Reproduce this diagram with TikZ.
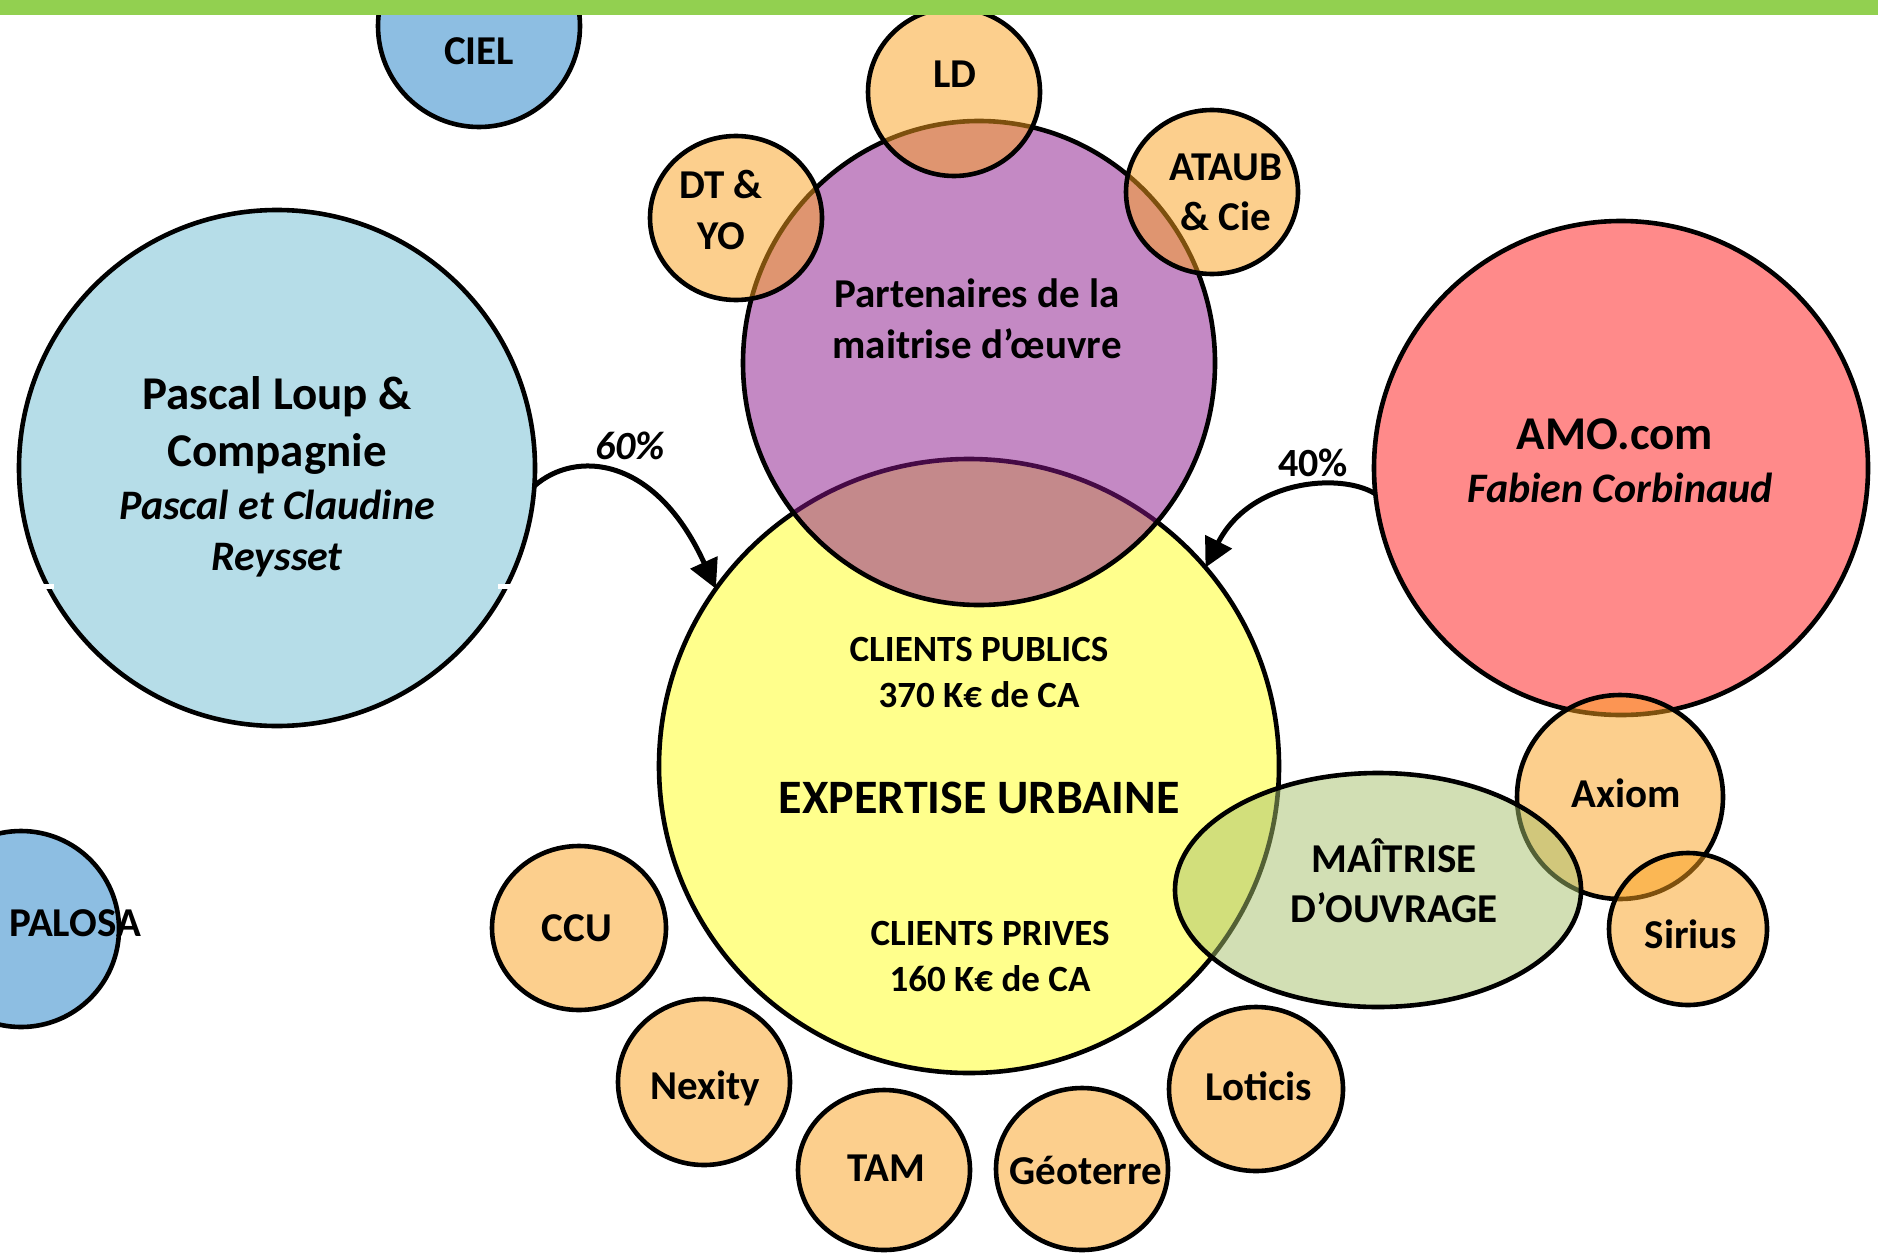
\documentclass[tikz,border=0pt]{standalone}
\usepackage{fontspec}
\setmainfont{Carlito}
\usetikzlibrary{shapes.geometric,arrows.meta}
\definecolor{topgreen}{RGB}{146,208,80}
\definecolor{cielblue}{RGB}{141,190,226}
\definecolor{pascalblue}{RGB}{182,221,232}
\definecolor{amored}{RGB}{255,138,138}
\definecolor{expyellow}{RGB}{255,255,140}
\definecolor{mopurple}{RGB}{139,21,139}
\definecolor{partorange}{RGB}{251,161,29}
\definecolor{mogreen}{RGB}{167,193,107}
\tikzset{
  bubble/.style={ellipse, draw=black, line width=4.6pt, inner sep=0pt, outer sep=0pt},
  partner/.style={bubble, fill=partorange, fill opacity=0.5},
  lbl/.style={font=\bfseries\fontsize{41}{51}\selectfont, inner sep=0pt, text height=26pt, text depth=0pt},
  mlbl/.style={font=\bfseries\fontsize{41}{51}\selectfont, inner sep=0pt, align=center},
  conn/.style={line width=5pt, -{Triangle[length=29pt,width=29pt]}},
  pct/.style={inner sep=0pt, text height=26pt, text depth=0pt}
}
\begin{document}
\begin{tikzpicture}[x=1pt,y=-1pt]
\useasboundingbox (0,0) rectangle (1878,1255);
\clip (0,0) rectangle (1878,1255);
\fill[white] (0,0) rectangle (1878,1255);
% background bubbles
\node[bubble, fill=cielblue, minimum width=202pt, minimum height=202pt] (ciel) at (479,26) {};
\node[bubble, fill=cielblue, minimum width=196pt, minimum height=196pt] (palosa) at (21,929) {};
\node[bubble, fill=pascalblue, minimum width=516pt, minimum height=516pt] (pascal) at (277,468) {};
\fill[white] (36,584) rectangle (54,589);
\fill[white] (498,584) rectangle (516,589);
\node[bubble, fill=amored, minimum width=494pt, minimum height=494pt] (amo) at (1621,468) {};
\node[partner, minimum width=206pt, minimum height=204pt] (axiom) at (1620,797) {};
\node[partner, minimum width=158pt, minimum height=152pt] (sirius) at (1688,929) {};
\node[bubble, fill=expyellow, minimum width=620pt, minimum height=614pt] (expertise) at (969,766) {};
\node[bubble, fill=mopurple, fill opacity=0.5, minimum width=472pt, minimum height=484pt] (moe) at (979,363) {};
\node[partner, minimum width=172pt, minimum height=168pt] (ld) at (954,92) {};
\node[partner, minimum width=172pt, minimum height=164pt] (dtyo) at (736,218) {};
\node[partner, minimum width=172pt, minimum height=164pt] (ataub) at (1212,192) {};
\node[bubble, fill=mogreen, fill opacity=0.5, minimum width=406pt, minimum height=234pt] (mo) at (1378,890) {};
\node[partner, minimum width=174pt, minimum height=164pt] (ccu) at (579,928) {};
\node[partner, minimum width=172pt, minimum height=166pt] (nexity) at (704,1082) {};
\node[partner, minimum width=172pt, minimum height=160pt] (tam) at (884,1170) {};
\node[partner, minimum width=172pt, minimum height=162pt] (geoterre) at (1082,1169) {};
\node[partner, minimum width=174pt, minimum height=164pt] (loticis) at (1256,1089) {};
% connectors
\draw[conn] (pascal.-4) .. controls (575,450) and (655,455) .. (expertise.145);
\draw[conn] (amo.186) .. controls (1340,472) and (1250,480) .. (expertise.40);
\node[pct, font=\bfseries\itshape\fontsize{40}{48}\selectfont] (p60) at (630,446) {60\%};
\node[pct, font=\bfseries\fontsize{40}{48}\selectfont] (p40) at (1313,463) {40\%};
% labels
\node[lbl] (tciel) at (479,51) {CIEL};
\node[lbl] (tpalosa) at (75,923) {PALOSA};
\node[mlbl, font=\bfseries\fontsize{47}{57}\selectfont] (tpascal) at (277,425) {Pascal Loup \&\\Compagnie};
\node[mlbl, font=\bfseries\itshape\fontsize{42}{51}\selectfont] (tpascal2) at (277,534) {Pascal et Claudine\\Reysset};
\node[lbl, font=\bfseries\fontsize{47}{57}\selectfont, text height=30pt] (tamo) at (1615,434) {AMO.com};
\node[lbl, font=\bfseries\itshape\fontsize{42}{51}\selectfont, text height=27pt] (tamo2) at (1620,489) {Fabien Corbinaud};
\node[mlbl, font=\bfseries\fontsize{41}{51}\selectfont] (tmoe) at (977,319) {Partenaires de la\\maitrise d’œuvre};
\node[lbl] (tld) at (955,75) {LD};
\node[mlbl] (tdtyo) at (721,210) {DT \&\\YO};
\node[mlbl, font=\bfseries\fontsize{41}{50}\selectfont] (tataub) at (1226,192) {ATAUB\\\& Cie};
\node[mlbl, font=\bfseries\fontsize{37}{46}\selectfont] (tpub) at (979,672) {CLIENTS PUBLICS\\370 K€ de CA};
\node[lbl, font=\bfseries\fontsize{48}{58}\selectfont, text height=31pt] (texp) at (979,798) {EXPERTISE URBAINE};
\node[mlbl, font=\bfseries\fontsize{37}{46}\selectfont] (tpriv) at (990,956) {CLIENTS PRIVES\\160 K€ de CA};
\node[mlbl, font=\bfseries\fontsize{41}{50}\selectfont] (tmo) at (1394,881) {MAÎTRISE\\D’OUVRAGE};
\node[lbl] (taxiom) at (1626,794) {Axiom};
\node[lbl] (tsirius) at (1691,935) {Sirius};
\node[lbl] (tccu) at (577,928) {CCU};
\node[lbl] (tnexity) at (705,1086) {Nexity};
\node[lbl] (ttam) at (886,1168) {TAM};
\node[lbl] (tgeo) at (1086,1171) {Géoterre};
\node[lbl] (tloticis) at (1259,1087) {Loticis};
% top bar
\fill[topgreen] (0,0) rectangle (1878,15);
\end{tikzpicture}
\end{document}
